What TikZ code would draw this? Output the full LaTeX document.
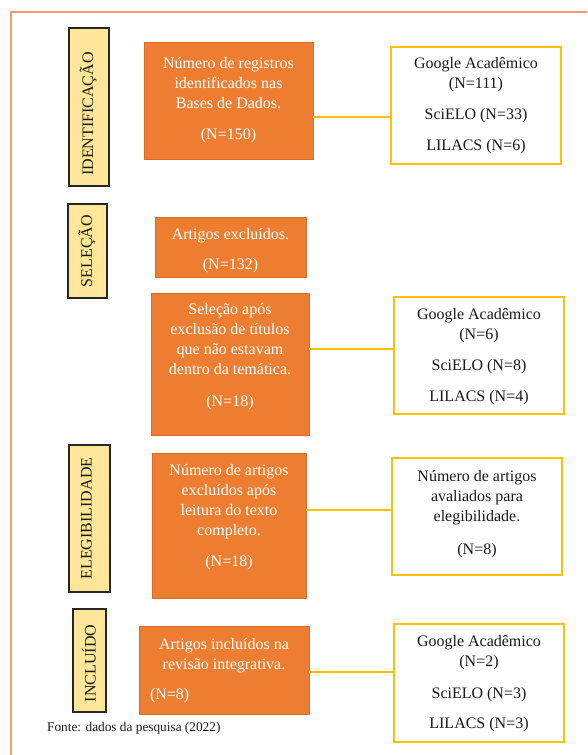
\documentclass[tikz,border=0pt]{standalone}
\usepackage{fontspec}
\setmainfont{Liberation Serif}
\definecolor{laranja}{HTML}{ED7D31}
\definecolor{laranjaborda}{HTML}{DC6A2A}
\definecolor{ouro}{HTML}{FFC000}
\definecolor{creme}{HTML}{FFE699}
\definecolor{moldura}{HTML}{F39B6D}
\newcommand{\caixa}[4][22.5pt]{\parbox[c][#3][t]{#2}{\centering\rule{0pt}{#1}#4}}
\tikzset{
  fase/.style={draw=black!85, line width=1.3pt, fill=creme, rotate=90, inner sep=0pt,
    font=\fontsize{16}{20}\selectfont, text=black!90},
  etapa/.style={draw=laranjaborda, line width=.8pt, fill=laranja, inner sep=0pt,
    font=\fontsize{16}{20}\selectfont, text=white},
  bancos/.style={draw=ouro, line width=1.3pt, fill=white, inner sep=0pt,
    font=\fontsize{16}{20}\selectfont, text=black!90},
  liga/.style={draw=ouro, line width=1.3pt},
  nota/.style={inner sep=0pt, font=\fontsize{13.3}{16}\selectfont, text=black!90}
}
\begin{document}
\begin{tikzpicture}[x=1pt,y=-1pt]
\useasboundingbox (0,0) rectangle (587,755);
\draw[moldura,line width=1.2pt](587,12)--(11,12)--(11,755);
\node[fase,minimum width=158pt,minimum height=40pt](f1)at(89,107){\raisebox{5pt}{IDENTIFICAÇÃO\hspace*{14pt}}};
\node[fase,minimum width=94pt,minimum height=39pt](f2)at(87.5,251){\raisebox{4.5pt}{SELEÇÃO}};
\node[fase,minimum width=147pt,minimum height=41pt](f3)at(89.5,518.5){\raisebox{6.5pt}{ELEGIBILIDADE}};
\node[fase,minimum width=103pt,minimum height=33pt](f4)at(89.5,660.5){\raisebox{1.5pt}{INCLUÍDO\hspace*{6pt}}};
\node[etapa](o1)at(228.5,100.5){\caixa[26.5pt]{169pt}{117pt}{Número de registros\\identificados nas\\Bases de Dados.\\[11pt](N=150)}};
\node[etapa](o2)at(230.5,247){\caixa{151pt}{60pt}{Artigos excluídos.\hspace*{10pt}\\[10pt](N=132)}};
\node[etapa](o3)at(230,364){\caixa[21.5pt]{158pt}{142pt}{Seleção após\\exclusão de títulos\\que não estavam\\dentro da temática.\\[12pt](N=18)}};
\node[etapa](o4)at(229,525.5){\caixa{154pt}{145pt}{Número de artigos\\excluídos após\\leitura do texto\\completo.\\[11pt](N=18)}};
\node[etapa](o5)at(224,670){\caixa[23.5pt]{170pt}{88pt}{Artigos incluídos na\\revisão integrativa.\par\vspace{10pt}\raggedright\hspace*{11pt}(N=8)}};
\node[bancos](r1)at(476,105.5){\caixa[21.5pt]{170pt}{117pt}{Google Acadêmico\\(N=111)\\[11pt]SciELO (N=33)\\[11pt]LILACS (N=6)}};
\node[bancos](r2)at(479,355.5){\caixa{170pt}{117pt}{Google Acadêmico\\(N=6)\\[11pt]SciELO (N=8)\\[11pt]LILACS (N=4)}};
\node[bancos](r4)at(477,516.5){\caixa[23.5pt]{170pt}{117pt}{Número de artigos\\avaliados para\\elegibilidade.\\[13pt](N=8)}};
\node[bancos](r5)at(479,683){\caixa{170pt}{118pt}{Google Acadêmico\\(N=2)\\[12pt]SciELO (N=3)\\[10pt]LILACS (N=3)}};
\coordinate(y1)at(0,117);
\coordinate(y2)at(0,349);
\coordinate(y4)at(0,510);
\coordinate(y5)at(0,672);
\draw[liga](o1.east|-y1)--(r1.west|-y1);
\draw[liga](o3.east|-y2)--(r2.west|-y2);
\draw[liga](o4.east|-y4)--(r4.west|-y4);
\draw[liga](o5.east|-y5)--(r5.west|-y5);
\node[nota,anchor=base west](fonte)at(47,731){Fonte: dados da pesquisa (2022)};
\end{tikzpicture}
\end{document}
